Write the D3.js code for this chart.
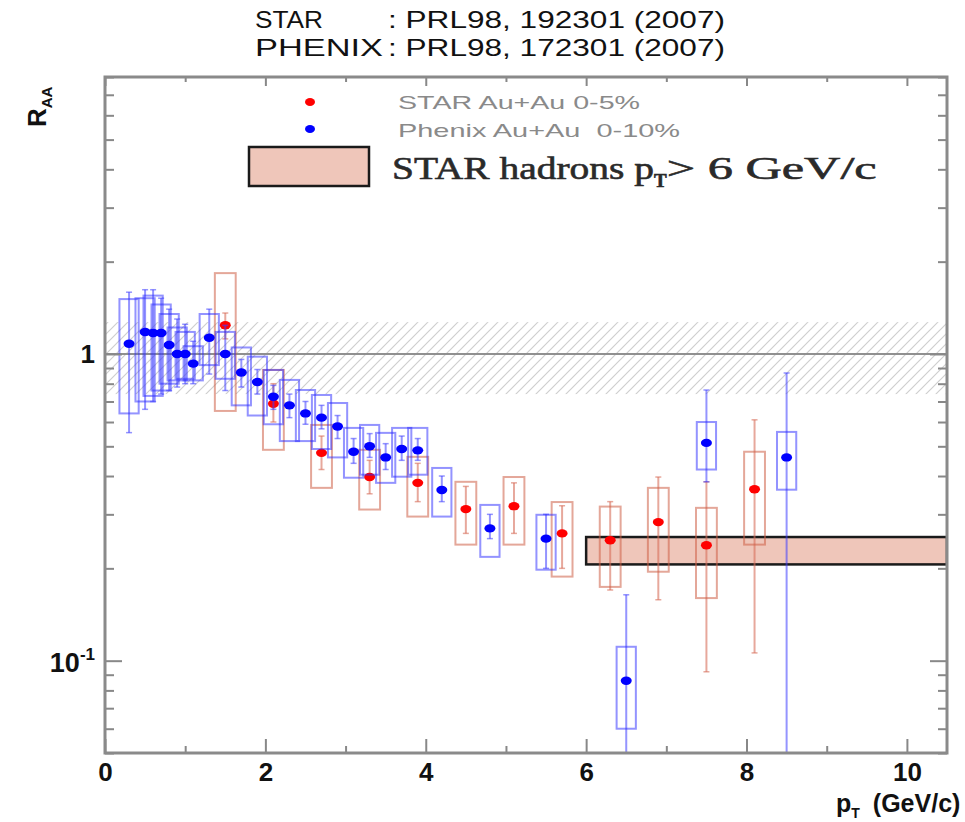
<!DOCTYPE html>
<html><head><meta charset="utf-8">
<script src="https://cdn.jsdelivr.net/npm/d3@7"></script>
<style>body{margin:0;background:#fff;} svg{display:block;}</style>
</head><body>
<svg id="chart" width="965" height="822"></svg>
<script>
// ---- data ----
const titleLines = ["STAR", "PHENIX"];
const titleRefs = [": PRL98, 192301 (2007)", ": PRL98, 172301 (2007)"];
const xTickMajor = [0, 2, 4, 6, 8, 10];
const xTickMinor = [1, 3, 5, 7, 9];
const yTickMajor = [0.1, 1];
const yTickMinor = [0.05, 0.06, 0.07, 0.08, 0.09, 0.2, 0.3, 0.4, 0.5, 0.6, 0.7, 0.8, 0.9, 2, 3, 4, 5, 6, 7, 8];

// PHENIX Au+Au 0-10%
const phenixPt    = [0.3, 0.5, 0.6, 0.7, 0.8, 0.9, 1.0, 1.1, 1.3, 1.5, 1.7, 1.9, 2.1, 2.3, 2.5, 2.7, 2.9, 3.1, 3.3, 3.5, 3.7, 3.9, 4.2, 4.8, 5.5, 6.5, 7.5, 8.5];
const phenixR     = [1.08, 1.18, 1.17, 1.17, 1.07, 1.0, 1.0, 0.93, 1.13, 1.0, 0.87, 0.81, 0.725, 0.68, 0.64, 0.62, 0.58, 0.48, 0.5, 0.46, 0.49, 0.485, 0.36, 0.27, 0.25, 0.086, 0.513, 0.46];
const phenixSysLo = [0.64, 0.70, 0.73, 0.76, 0.80, 0.82, 0.83, 0.82, 0.92, 0.83, 0.68, 0.63, 0.59, 0.52, 0.52, 0.49, 0.46, 0.395, 0.404, 0.38, 0.398, 0.404, 0.295, 0.218, 0.198, 0.060, 0.42, 0.361];
const phenixSysHi = [1.51, 1.52, 1.55, 1.45, 1.35, 1.22, 1.18, 1.06, 1.35, 1.18, 1.05, 0.98, 0.887, 0.823, 0.763, 0.735, 0.692, 0.574, 0.587, 0.553, 0.574, 0.574, 0.425, 0.322, 0.299, 0.111, 0.60, 0.557];
const phenixErrLo = [0.554, 0.66, 0.70, 0.74, 0.76, 0.78, 0.80, 0.80, 0.86, 0.76, 0.78, 0.74, 0.66, 0.62, 0.59, 0.57, 0.53, 0.44, 0.46, 0.42, 0.45, 0.45, 0.33, 0.25, 0.20, 0.01, 0.383, 0.01];
const phenixErrHi = [1.59, 1.62, 1.62, 1.52, 1.40, 1.30, 1.25, 1.10, 1.40, 1.24, 0.96, 0.89, 0.79, 0.74, 0.70, 0.68, 0.63, 0.53, 0.55, 0.51, 0.54, 0.53, 0.40, 0.30, 0.30, 0.164, 0.763, 0.867];

// STAR Au+Au 0-5%
const starPt    = [1.5, 2.1, 2.7, 3.3, 3.9, 4.5, 5.1, 5.7, 6.3, 6.9, 7.5, 8.1];
const starR     = [1.24, 0.688, 0.476, 0.397, 0.38, 0.312, 0.319, 0.26, 0.247, 0.283, 0.238, 0.362];
const starSysLo = [0.652, 0.487, 0.366, 0.311, 0.295, 0.239, 0.239, 0.188, 0.174, 0.195, 0.16, 0.239];
const starSysHi = [1.835, 0.887, 0.587, 0.487, 0.462, 0.383, 0.397, 0.329, 0.318, 0.366, 0.315, 0.48];
const starErrLo = [1.12, 0.60, 0.42, 0.35, 0.33, 0.26, 0.26, 0.20, 0.17, 0.158, 0.092, 0.106];
const starErrHi = [1.36, 0.80, 0.54, 0.45, 0.44, 0.37, 0.38, 0.32, 0.33, 0.397, 0.383, 0.61];

// STAR hadrons pT > 6 GeV/c band
const hadronBandX = [6.0, 10.5];
const hadronBandY = [0.206, 0.253];
// normalization uncertainty band around 1
const normBand = [0.74, 1.27];

// ---- chart ----
const svg = d3.select("#chart");
const x = d3.scaleLinear().domain([0, 10.5]).range([105, 947]);
const y = d3.scaleLog().domain([0.05, 8]).range([753, 77]);
const SANS = "Liberation Sans, Arial, sans-serif";

const defs = svg.append("defs");
const pat = defs.append("pattern").attr("id", "hatch").attr("patternUnits", "userSpaceOnUse")
  .attr("width", 10).attr("height", 10);
pat.append("path").attr("d", "M0,10 L10,0 M-3,3 L3,-3 M7,13 L13,7").attr("stroke", "#cfcfcf").attr("stroke-width", 1.2);
defs.append("clipPath").attr("id", "plotclip").append("rect")
  .attr("x", x(0)).attr("y", y(8)).attr("width", x(10.5) - x(0)).attr("height", y(0.05) - y(8));

// titles (stretched as in the reference)
const tg = svg.append("g").attr("font-family", SANS).attr("font-size", 24).attr("fill", "#111");
const titleNameLen = [68, 128];
titleLines.forEach((t, i) => {
  tg.append("text").attr("x", 255).attr("y", 28 + i * 28).attr("textLength", titleNameLen[i])
    .attr("lengthAdjust", "spacingAndGlyphs").text(t);
  tg.append("text").attr("x", 388).attr("y", 28 + i * 28).attr("textLength", 337)
    .attr("lengthAdjust", "spacingAndGlyphs").text(titleRefs[i]);
});

const plot = svg.append("g").attr("clip-path", "url(#plotclip)");
plot.append("rect").attr("x", x(0)).attr("width", x(10.5) - x(0))
  .attr("y", y(normBand[1])).attr("height", y(normBand[0]) - y(normBand[1]))
  .attr("fill", "url(#hatch)");
plot.append("line").attr("x1", x(0)).attr("x2", x(10.5)).attr("y1", y(1)).attr("y2", y(1))
  .attr("stroke", "#8f8f8f").attr("stroke-width", 2);

plot.append("rect").attr("x", x(hadronBandX[0])).attr("width", x(hadronBandX[1]) - x(hadronBandX[0]))
  .attr("y", y(hadronBandY[1])).attr("height", y(hadronBandY[0]) - y(hadronBandY[1]))
  .attr("fill", "#efc6ba").attr("stroke", "#1a1a1a").attr("stroke-width", 2.5);

function drawSeries(pt, r, sLo, sHi, eLo, eHi, boxCol, errCol, dotCol, halfW) {
  const g = plot.append("g");
  pt.forEach((p, i) => {
    g.append("line").attr("x1", x(p)).attr("x2", x(p)).attr("y1", y(eHi[i])).attr("y2", y(eLo[i]))
      .attr("stroke", errCol).attr("stroke-width", 2);
    [eHi[i], eLo[i]].forEach(v => {
      g.append("line").attr("x1", x(p) - 3).attr("x2", x(p) + 3).attr("y1", y(v)).attr("y2", y(v))
        .attr("stroke", errCol).attr("stroke-width", 1.5);
    });
    g.append("rect").attr("x", x(p - halfW)).attr("width", x(p + halfW) - x(p - halfW))
      .attr("y", y(sHi[i])).attr("height", y(sLo[i]) - y(sHi[i]))
      .attr("fill", "none").attr("stroke", boxCol).attr("stroke-width", 2);
  });
  pt.forEach((p, i) => {
    g.append("ellipse").attr("cx", x(p)).attr("cy", y(r[i])).attr("rx", 5.5).attr("ry", 4.2).attr("fill", dotCol);
  });
}
drawSeries(starPt, starR, starSysLo, starSysHi, starErrLo, starErrHi,
  "rgba(205,95,70,0.55)", "rgba(215,110,90,0.6)", "#ff0000", 0.13);
drawSeries(phenixPt, phenixR, phenixSysLo, phenixSysHi, phenixErrLo, phenixErrHi,
  "rgba(40,40,255,0.5)", "rgba(60,60,255,0.55)", "#0000ff", 0.12);

// axes (ticks inward)
const styleTicks = g => { g.select(".domain").remove(); g.selectAll("line").attr("stroke", "#888").attr("stroke-width", 2); };
const axG = svg.append("g");
axG.append("g").attr("transform", `translate(0,${y(0.05)})`)
  .call(d3.axisBottom(x).tickValues(xTickMajor).tickSize(-14).tickPadding(10).tickFormat(d3.format("d")))
  .call(g => { styleTicks(g);
    g.selectAll("text").attr("font-family", SANS).attr("font-size", 26).attr("font-weight", "bold").attr("fill", "#111"); });
axG.append("g").attr("transform", `translate(0,${y(0.05)})`)
  .call(d3.axisBottom(x).tickValues(xTickMinor).tickSize(-7).tickFormat("")).call(styleTicks);
axG.append("g").attr("transform", `translate(0,${y(8)})`)
  .call(d3.axisTop(x).tickValues(xTickMajor).tickSize(-9).tickFormat("")).call(styleTicks);
axG.append("g").attr("transform", `translate(0,${y(8)})`)
  .call(d3.axisTop(x).tickValues(xTickMinor).tickSize(-5).tickFormat("")).call(styleTicks);
[[x(0), d3.axisLeft], [x(10.5), d3.axisRight]].forEach(([px, ax]) => {
  axG.append("g").attr("transform", `translate(${px},0)`)
    .call(ax(y).tickValues(yTickMajor).tickSize(-17).tickFormat("")).call(styleTicks);
  axG.append("g").attr("transform", `translate(${px},0)`)
    .call(ax(y).tickValues(yTickMinor).tickSize(-9).tickFormat("")).call(styleTicks);
});
svg.append("rect").attr("x", x(0)).attr("y", y(8)).attr("width", x(10.5) - x(0)).attr("height", y(0.05) - y(8))
  .attr("fill", "none").attr("stroke", "#8a8a8a").attr("stroke-width", 3);

// y tick labels
const lab = svg.append("g").attr("font-family", SANS).attr("font-weight", "bold").attr("fill", "#111");
lab.append("text").attr("x", 95).attr("y", y(1) + 9).attr("text-anchor", "end").attr("font-size", 26).text("1");
const t01 = lab.append("text").attr("x", 95).attr("y", y(0.1) + 11).attr("text-anchor", "end").attr("font-size", 27);
t01.append("tspan").text("10");
t01.append("tspan").attr("dy", -12).attr("font-size", 17).text("-1");

// axis titles
const ylab = lab.append("text").attr("transform", "translate(46,127) rotate(-90)").attr("font-size", 26);
ylab.append("tspan").text("R");
ylab.append("tspan").attr("dy", 6).attr("font-size", 15).text("AA");
const xlab = lab.append("text").attr("x", 836).attr("y", 812).attr("font-size", 25);
xlab.append("tspan").text("p");
xlab.append("tspan").attr("dy", 6).attr("font-size", 14).text("T");
xlab.append("tspan").attr("dy", -6).attr("dx", 13).text("(GeV/c)");

// legend
const leg = svg.append("g");
leg.append("ellipse").attr("cx", 310).attr("cy", 102).attr("rx", 5).attr("ry", 4).attr("fill", "#ff0000");
leg.append("ellipse").attr("cx", 310).attr("cy", 129).attr("rx", 5).attr("ry", 4).attr("fill", "#0000ff");
leg.append("text").attr("x", 398).attr("y", 109).attr("font-family", SANS).attr("font-size", 19)
  .attr("textLength", 242).attr("lengthAdjust", "spacingAndGlyphs")
  .attr("fill", "#8a8a8a").text("STAR Au+Au 0-5%");
leg.append("text").attr("x", 398).attr("y", 137).attr("font-family", SANS).attr("font-size", 19)
  .attr("textLength", 282).attr("lengthAdjust", "spacingAndGlyphs")
  .attr("fill", "#8a8a8a").attr("xml:space", "preserve").text("Phenix Au+Au  0-10%");
leg.append("rect").attr("x", 249).attr("y", 147).attr("width", 120).attr("height", 39)
  .attr("fill", "#efc6ba").attr("stroke", "#1a1a1a").attr("stroke-width", 2.5);
const ht = leg.append("text").attr("x", 392).attr("y", 179).attr("font-family", "Liberation Serif, Times New Roman, serif")
  .attr("font-size", 32).attr("fill", "#2a2a2a").attr("stroke", "#2a2a2a").attr("stroke-width", 0.6);
ht.append("tspan").attr("textLength", 262).attr("lengthAdjust", "spacingAndGlyphs").text("STAR hadrons p");
ht.append("tspan").attr("dy", 8).attr("font-size", 19).attr("font-weight", "bold").text("T");
ht.append("tspan").attr("dy", -8).attr("textLength", 210).attr("lengthAdjust", "spacingAndGlyphs").text("> 6 GeV/c");
</script>
</body></html>
